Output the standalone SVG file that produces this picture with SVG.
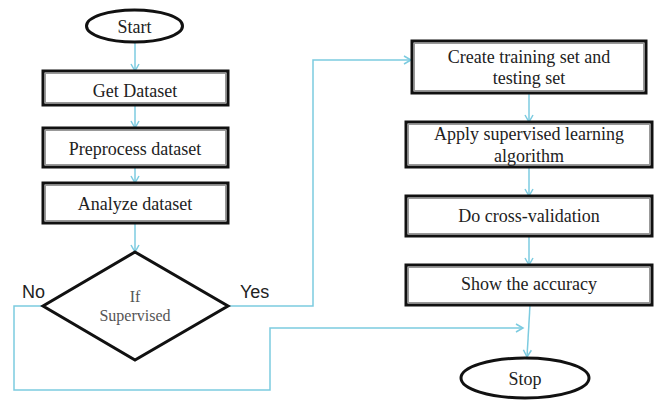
<svg xmlns="http://www.w3.org/2000/svg" width="656" height="400" viewBox="0 0 656 400">
<style>
.box{fill:#fff;stroke:#111;stroke-width:3}
.inner{fill:none;stroke:#999;stroke-width:1}
.term{fill:#fff;stroke:#111;stroke-width:3}
.t{font-family:"Liberation Serif",serif;font-size:18px;fill:#222;text-anchor:middle}
.d{font-family:"Liberation Serif",serif;font-size:16px;fill:#555;text-anchor:middle}
.lab{font-family:"Liberation Sans",sans-serif;font-size:18px;fill:#222}
.c{fill:none;stroke:#7ccbe0;stroke-width:1.5}
</style>
<defs>
<marker id="a" markerWidth="10" markerHeight="10" refX="8" refY="5" orient="auto" markerUnits="userSpaceOnUse">
<path d="M1,1 L8,5 L1,9" fill="none" stroke="#7ccbe0" stroke-width="1.5"/>
</marker>
</defs>
<rect width="656" height="400" fill="#fff"/>
<g id="connectors">
<line class="c" x1="135" y1="42" x2="135" y2="71" marker-end="url(#a)"/>
<line class="c" x1="135" y1="105" x2="135" y2="128" marker-end="url(#a)"/>
<line class="c" x1="135" y1="167" x2="135" y2="183" marker-end="url(#a)"/>
<line class="c" x1="135" y1="223" x2="135" y2="252" marker-end="url(#a)"/>
<polyline class="c" points="228,306 313,306 313,60 411,60" marker-end="url(#a)"/>
<polyline class="c" points="43,306 14,306 14,390 270,390 270,328 523,328" marker-end="url(#a)"/>
<line class="c" x1="529" y1="93" x2="529" y2="122" marker-end="url(#a)"/>
<line class="c" x1="529" y1="167" x2="529" y2="196" marker-end="url(#a)"/>
<line class="c" x1="529" y1="236" x2="529" y2="265" marker-end="url(#a)"/>
<line class="c" x1="530" y1="305" x2="527" y2="357" marker-end="url(#a)"/>
</g>
<g id="start">
<ellipse class="term" cx="134.5" cy="26" rx="48" ry="16"/>
<text class="t" x="134.5" y="33">Start</text>
</g>
<g id="get">
<rect class="box" x="43" y="71" width="185" height="34"/>
<rect class="inner" x="45.5" y="73.5" width="180" height="29"/>
<text class="t" x="135" y="97">Get Dataset</text>
</g>
<g id="pre">
<rect class="box" x="43" y="128" width="185" height="39"/>
<rect class="inner" x="45.5" y="130.5" width="180" height="34"/>
<text class="t" x="135" y="155">Preprocess dataset</text>
</g>
<g id="analyze">
<rect class="box" x="43" y="183" width="185" height="40"/>
<rect class="inner" x="45.5" y="185.5" width="180" height="35"/>
<text class="t" x="135" y="210">Analyze dataset</text>
</g>
<g id="decision">
<polygon points="135,252 228,306 135,360 43,306" fill="#fff" stroke="#111" stroke-width="3" stroke-linejoin="miter"/>
<text class="d" x="135" y="302">If</text>
<text class="d" x="135" y="321">Supervised</text>
</g>
<text class="lab" x="22" y="298">No</text>
<text class="lab" x="240" y="298">Yes</text>
<g id="create">
<rect class="box" x="412" y="41" width="234" height="52"/>
<rect class="inner" x="414.5" y="43.5" width="229" height="47"/>
<text class="t" x="529" y="63">Create training set and</text>
<text class="t" x="529" y="84">testing set</text>
</g>
<g id="apply">
<rect class="box" x="406" y="122" width="246" height="45"/>
<rect class="inner" x="408.5" y="124.5" width="241" height="40"/>
<text class="t" x="529" y="140">Apply supervised learning</text>
<text class="t" x="529" y="162">algorithm</text>
</g>
<g id="cv">
<rect class="box" x="406" y="196" width="246" height="40"/>
<rect class="inner" x="408.5" y="198.5" width="241" height="35"/>
<text class="t" x="529" y="222">Do cross-validation</text>
</g>
<g id="show">
<rect class="box" x="406" y="265" width="246" height="40"/>
<rect class="inner" x="408.5" y="267.5" width="241" height="35"/>
<text class="t" x="529" y="290">Show the accuracy</text>
</g>
<g id="stop">
<ellipse class="term" cx="525" cy="378" rx="64" ry="20"/>
<text class="t" x="525" y="385">Stop</text>
</g>
</svg>
